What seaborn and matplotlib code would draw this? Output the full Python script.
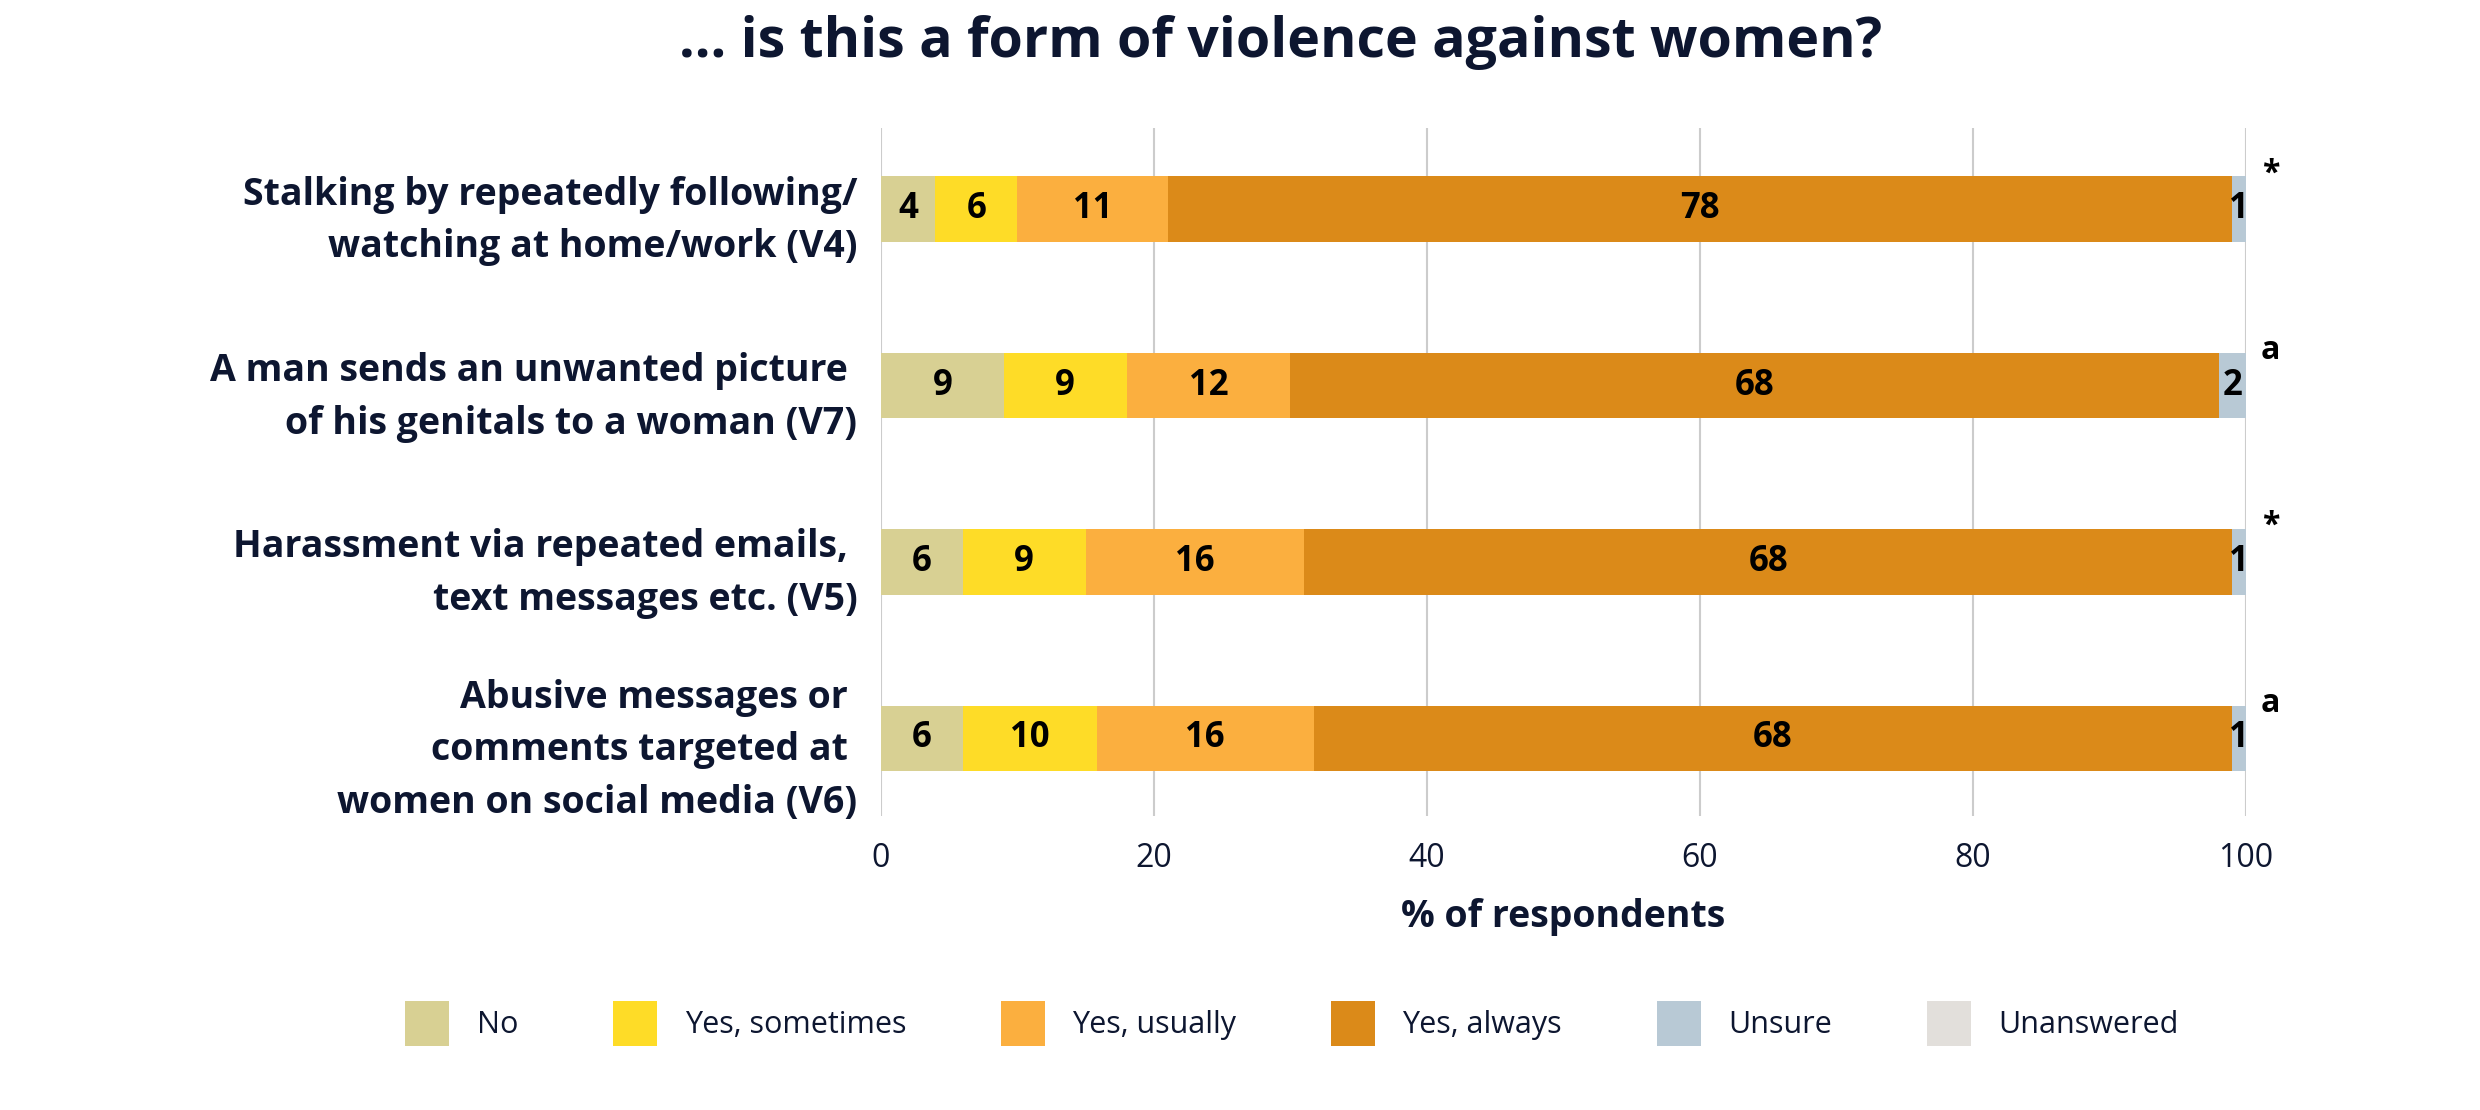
import numpy as np
import pandas as pd
import matplotlib
matplotlib.use("Agg")
import matplotlib.pyplot as plt
from matplotlib.patches import Patch
import seaborn as sns

# ---- data ----
items = [
    "Stalking by repeatedly following/\nwatching at home/work (V4)",
    "A man sends an unwanted picture \nof his genitals to a woman (V7)",
    "Harassment via repeated emails, \ntext messages etc. (V5)",
    "Abusive messages or \ncomments targeted at \nwomen on social media (V6)",
]
responses = ["No", "Yes, sometimes", "Yes, usually", "Yes, always", "Unsure", "Unanswered"]
colors = ["#d8d093", "#fedc27", "#fbaf3f", "#db8a19", "#b8c9d5", "#e2dfdb"]

# segment widths (% of respondents)
no_vals = [4, 9, 6, 6]
sometimes_vals = [6, 9, 9, 9.8]
usually_vals = [11, 12, 16, 15.9]
always_vals = [78, 68, 68, 67.3]
unsure_vals = [1, 2, 1, 1.0]
unanswered_vals = [0, 0, 0, 0]

# printed figures on the bars
no_lbl = [4, 9, 6, 6]
sometimes_lbl = [6, 9, 9, 10]
usually_lbl = [11, 12, 16, 16]
always_lbl = [78, 68, 68, 68]
unsure_lbl = [1, 2, 1, 1]
unanswered_lbl = [0, 0, 0, 0]

markers = ["*", "a", "*", "a"]
xticks = [0, 20, 40, 60, 80, 100]

TEXT = "#0d1630"

sns.set_style("white")
plt.rcParams["font.family"] = ["Open Sans", "DejaVu Sans"]

df = pd.DataFrame({"item": items})
for name, vals in zip(responses, [no_vals, sometimes_vals, usually_vals,
                                  always_vals, unsure_vals, unanswered_vals]):
    df[name] = vals
labels = pd.DataFrame([no_lbl, sometimes_lbl, usually_lbl, always_lbl,
                       unsure_lbl, unanswered_lbl], index=responses).T
cum = df[responses].cumsum(axis=1)

fig = plt.figure(figsize=(24.8, 11.1), dpi=100)
ax = fig.add_axes([0.3552, 0.2649, 0.5504, 0.6198])

# stacked bars: draw cumulative totals back to front
for name, col in reversed(list(zip(responses, colors))):
    sns.barplot(x=cum[name], y=df["item"], color=col, orient="h", width=0.37,
                saturation=1, errorbar=None, linewidth=0, ax=ax)

# segment labels
for i in range(len(items)):
    for name in responses:
        v = df.loc[i, name]
        if v <= 0:
            continue
        xm = cum.loc[i, name] - v / 2
        ax.text(xm, i, str(labels.loc[i, name]), ha="center", va="center",
                fontsize=25, fontweight="bold", color="black")
    ax.text(101.8, i - 0.2, markers[i], ha="center", va="center",
            fontsize=23, fontweight="bold", color="black", clip_on=False)

ax.set_xlim(0, 100)
ax.set_ylim(3.44, -0.46)
ax.set_xticks(xticks)
ax.set_xticklabels([str(t) for t in xticks], fontsize=23, color=TEXT)
ax.set_yticks(range(len(items)))
ax.set_yticklabels(items, fontsize=27, fontweight="bold", color=TEXT,
                   linespacing=1.5)
ax.tick_params(axis="y", length=0, pad=17)
ax.tick_params(axis="x", length=0, pad=19)
ax.set_ylabel("")
ax.set_xlabel("% of respondents", fontsize=27, fontweight="bold", color=TEXT,
              labelpad=16)

ax.set_axisbelow(True)
ax.grid(axis="x", color="#cccccc", linewidth=1.5)
ax.grid(axis="y", visible=False)
sns.despine(ax=ax, left=True, bottom=True)

fig.text(0.5165, 0.962, "... is this a form of violence against women?",
         ha="center", va="center", fontsize=40, fontweight="bold", color=TEXT)

handles = [Patch(facecolor=c, edgecolor="none", label=r) for r, c in zip(responses, colors)]
fig.legend(handles=handles, loc="center", bbox_to_anchor=(0.521, 0.078), ncol=6,
           frameon=False, fontsize=22, handlelength=1.44, handleheight=1.93,
           handletextpad=0.9, columnspacing=3.1, labelcolor=TEXT)

fig.savefig("out.png", dpi=100)
